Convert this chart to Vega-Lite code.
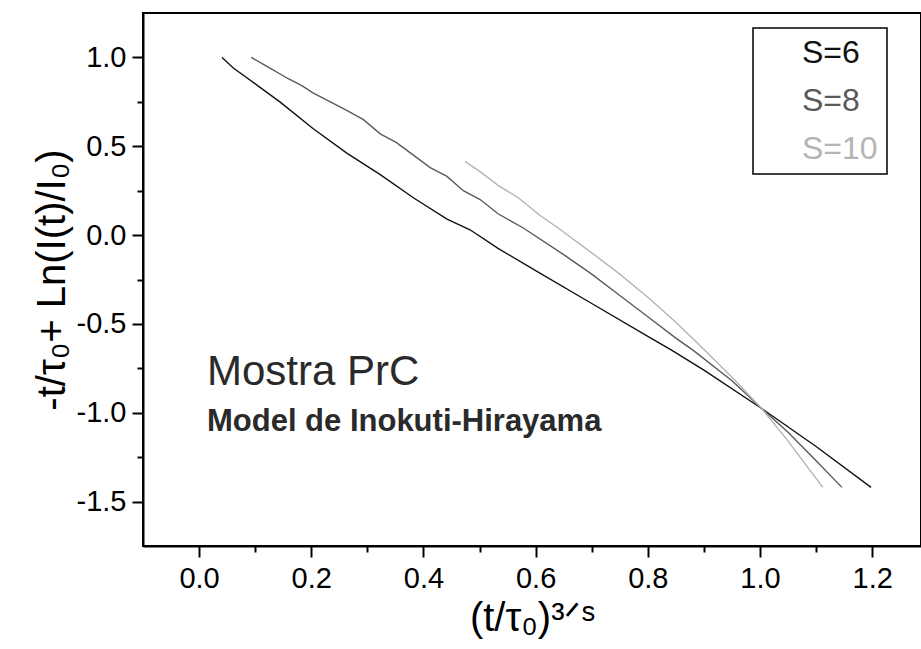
{
  "$schema": "https://vega.github.io/schema/vega-lite/v6.json",
  "width": 778,
  "height": 533,
  "autosize": {"type": "none"},
  "padding": {"left": 143, "top": 13, "right": 0, "bottom": 103},
  "background": "white",
  "config": {
    "font": "Liberation Sans",
    "view": {"stroke": "black", "strokeWidth": 2},
    "axis": {
      "grid": false,
      "domainColor": "black",
      "domainWidth": 2,
      "tickColor": "black",
      "tickWidth": 2,
      "labelColor": "black",
      "titleColor": "black",
      "labelFont": "Liberation Sans",
      "titleFont": "Liberation Sans",
      "labelFontSize": 29,
      "titleFontSize": 40,
      "titleFontWeight": "normal"
    }
  },
  "datasets": {
    "curves": [
      {"S": "S=6", "x": 0.041, "y": 1.0},
      {"S": "S=6", "x": 0.061, "y": 0.94},
      {"S": "S=6", "x": 0.105, "y": 0.84},
      {"S": "S=6", "x": 0.144, "y": 0.75},
      {"S": "S=6", "x": 0.203, "y": 0.6},
      {"S": "S=6", "x": 0.264, "y": 0.46},
      {"S": "S=6", "x": 0.323, "y": 0.34},
      {"S": "S=6", "x": 0.382, "y": 0.21},
      {"S": "S=6", "x": 0.442, "y": 0.09},
      {"S": "S=6", "x": 0.483, "y": 0.03},
      {"S": "S=6", "x": 0.533, "y": -0.075},
      {"S": "S=6", "x": 0.6, "y": -0.2},
      {"S": "S=6", "x": 0.7, "y": -0.385},
      {"S": "S=6", "x": 0.8, "y": -0.57},
      {"S": "S=6", "x": 0.843, "y": -0.649},
      {"S": "S=6", "x": 0.9, "y": -0.76},
      {"S": "S=6", "x": 1.003, "y": -0.976},
      {"S": "S=6", "x": 1.1, "y": -1.19},
      {"S": "S=6", "x": 1.198, "y": -1.42},
      {"S": "S=8", "x": 0.093, "y": 1.0},
      {"S": "S=8", "x": 0.121, "y": 0.95},
      {"S": "S=8", "x": 0.159, "y": 0.88},
      {"S": "S=8", "x": 0.184, "y": 0.84},
      {"S": "S=8", "x": 0.203, "y": 0.8},
      {"S": "S=8", "x": 0.234, "y": 0.75},
      {"S": "S=8", "x": 0.264, "y": 0.7},
      {"S": "S=8", "x": 0.293, "y": 0.65},
      {"S": "S=8", "x": 0.323, "y": 0.57},
      {"S": "S=8", "x": 0.352, "y": 0.52},
      {"S": "S=8", "x": 0.382, "y": 0.45},
      {"S": "S=8", "x": 0.412, "y": 0.38},
      {"S": "S=8", "x": 0.442, "y": 0.33},
      {"S": "S=8", "x": 0.471, "y": 0.25},
      {"S": "S=8", "x": 0.501, "y": 0.2},
      {"S": "S=8", "x": 0.533, "y": 0.12},
      {"S": "S=8", "x": 0.578, "y": 0.04},
      {"S": "S=8", "x": 0.65, "y": -0.11},
      {"S": "S=8", "x": 0.7, "y": -0.22},
      {"S": "S=8", "x": 0.75, "y": -0.34},
      {"S": "S=8", "x": 0.8, "y": -0.46},
      {"S": "S=8", "x": 0.85, "y": -0.58},
      {"S": "S=8", "x": 0.881, "y": -0.649},
      {"S": "S=8", "x": 0.95, "y": -0.82},
      {"S": "S=8", "x": 1.003, "y": -0.976},
      {"S": "S=8", "x": 1.05, "y": -1.11},
      {"S": "S=8", "x": 1.1, "y": -1.27},
      {"S": "S=8", "x": 1.146, "y": -1.42},
      {"S": "S=10", "x": 0.474, "y": 0.415},
      {"S": "S=10", "x": 0.504, "y": 0.35},
      {"S": "S=10", "x": 0.533, "y": 0.28},
      {"S": "S=10", "x": 0.569, "y": 0.21},
      {"S": "S=10", "x": 0.608, "y": 0.11},
      {"S": "S=10", "x": 0.64, "y": 0.04},
      {"S": "S=10", "x": 0.7, "y": -0.1},
      {"S": "S=10", "x": 0.75, "y": -0.22},
      {"S": "S=10", "x": 0.8, "y": -0.35},
      {"S": "S=10", "x": 0.85, "y": -0.49},
      {"S": "S=10", "x": 0.902, "y": -0.649},
      {"S": "S=10", "x": 0.95, "y": -0.8},
      {"S": "S=10", "x": 1.003, "y": -0.976},
      {"S": "S=10", "x": 1.05, "y": -1.16},
      {"S": "S=10", "x": 1.112, "y": -1.42}
    ],
    "notes": [
      {"label": "Mostra PrC", "x": 0.014, "y": -0.846, "kind": "main"},
      {"label": "Model de Inokuti-Hirayama", "x": 0.014, "y": -1.1, "kind": "sub"}
    ]
  },
  "layer": [
    {
      "data": {"name": "curves"},
      "mark": {"type": "line", "strokeWidth": 1.4, "clip": true},
      "encoding": {
        "x": {
          "field": "x", "type": "quantitative",
          "scale": {"domain": [-0.1, 1.287], "nice": false, "zero": false},
          "axis": {
            "orient": "bottom",
            "values": [0, 0.2, 0.4, 0.6, 0.8, 1.0, 1.2],
            "format": ".1f",
            "labelExpr": "replace(datum.label, '−', '-')",
            "tickSize": 11,
            "labelPadding": 7,
            "title": "(t/τ₀)³ᐟˢ",
            "titlePadding": 5
          }
        },
        "y": {
          "field": "y", "type": "quantitative",
          "scale": {"domain": [-1.75, 1.25], "nice": false, "zero": false},
          "axis": {
            "orient": "left",
            "values": [-1.5, -1.0, -0.5, 0, 0.5, 1.0],
            "format": ".1f",
            "labelExpr": "replace(datum.label, '−', '-')",
            "tickSize": 11,
            "labelPadding": 6,
            "title": "-t/τ₀+ Ln(I(t)/I₀)",
            "titlePadding": 4
          }
        },
        "color": {
          "field": "S", "type": "nominal",
          "scale": {"domain": ["S=6", "S=8", "S=10"], "range": ["#111111", "#5a5a5a", "#b4b4b4"]},
          "legend": {
            "title": null,
            "orient": "none",
            "legendX": 610,
            "legendY": 15,
            "strokeColor": "black",
            "fillColor": "white",
            "padding": 9,
            "symbolType": "square",
            "symbolSize": 144,
            "symbolOpacity": 0,
            "symbolStrokeWidth": 0,
            "labelOffset": 8,
            "labelFontSize": 32,
            "labelFont": "Liberation Sans",
            "rowPadding": 16,
            "encode": {
              "legend": {"update": {"strokeWidth": {"value": 1.5}}},
              "labels": {"update": {"fill": {"signal": "scale('color', datum.value)"}}}
            }
          }
        }
      }
    },
    {
      "data": {"name": "curves"},
      "mark": {"type": "point", "opacity": 0},
      "encoding": {
        "x": {
          "field": "x", "type": "quantitative",
          "axis": {
            "orient": "bottom",
            "values": [0.1, 0.3, 0.5, 0.7, 0.9, 1.1],
            "labels": false, "domain": false, "tickSize": 6, "title": null
          }
        },
        "y": {
          "field": "y", "type": "quantitative",
          "axis": {
            "orient": "left",
            "values": [-1.25, -0.75, -0.25, 0.25, 0.75],
            "labels": false, "domain": false, "tickSize": 6, "title": null
          }
        }
      }
    },
    {
      "data": {"name": "notes"},
      "transform": [{"filter": "datum.kind == 'main'"}],
      "mark": {"type": "text", "align": "left", "baseline": "alphabetic", "fontSize": 42, "font": "Liberation Sans", "color": "#2a2a2a"},
      "encoding": {
        "x": {"field": "x", "type": "quantitative", "axis": null},
        "y": {"field": "y", "type": "quantitative", "axis": null},
        "text": {"field": "label"}
      }
    },
    {
      "data": {"name": "notes"},
      "transform": [{"filter": "datum.kind == 'sub'"}],
      "mark": {"type": "text", "align": "left", "baseline": "alphabetic", "fontSize": 31, "fontWeight": "bold", "font": "Liberation Sans", "color": "#2a2a2a"},
      "encoding": {
        "x": {"field": "x", "type": "quantitative", "axis": null},
        "y": {"field": "y", "type": "quantitative", "axis": null},
        "text": {"field": "label"}
      }
    }
  ],
  "resolve": {"axis": {"x": "independent", "y": "independent"}}
}
